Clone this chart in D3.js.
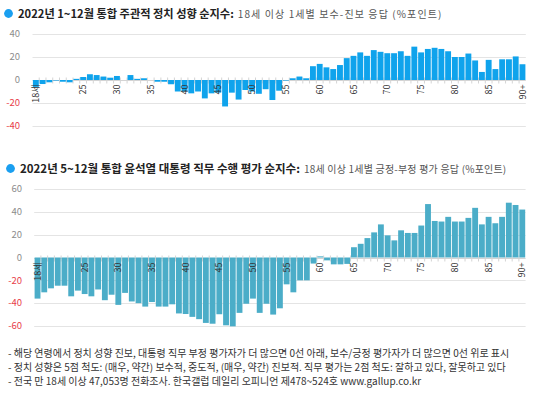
<!DOCTYPE html>
<html>
<head>
<meta charset="utf-8">
<script src="https://cdn.jsdelivr.net/npm/d3@7/dist/d3.min.js"></script>
<style>
body { margin: 0; background: #fff; }
svg { display: block; font-family: "Noto Sans CJK KR", "Noto Sans", sans-serif; }
</style>
</head>
<body>
<div id="chart"></div>
<script>
var ages = ["18","19","20","21","22","23","24","25","26","27","28","29","30","31","32","33","34","35","36","37",
    "38","39","40","41","42","43","44","45","46","47","48","49","50","51","52","53","54","55","56","57",
    "58","59","60","61","62","63","64","65","66","67","68","69","70","71","72","73","74","75","76","77",
    "78","79","80","81","82","83","84","85","86","87","88","89","90+"];

// 주관적 정치 성향 순지수 (보수-진보)
var ideology = [-6, -3.5, -2, -0.5, -1.5, -2, 1, 2.6, 5, 4.3, 3, 2, 3.5, 0, 4.3, 1, 1.5, 0, -1.5, -1.5,
    -3.7, -10, -10, -11.6, -10, -16, -11.6, -11, -23, -11, -17, -8.7, -10, -12, -8, -17.4, -9.3, -0.5, 1.5, 3,
    1.5, 12, 14, 11, 9.5, 13, 19, 21, 24, 21, 26, 24.5, 23.3, 23.3, 25, 21, 29, 24, 27, 28,
    27, 25, 20, 20, 23, 17, 7, 17.5, 9.5, 18, 18, 20.5, 13.7];

// 직무 수행 평가 순지수 (긍정-부정)
var approval = [-36, -30.5, -27, -24.7, -24.7, -34, -29, -32, -34, -28, -37.4, -32.6, -41.5, -31, -38.5, -40, -43, -39, -43, -43,
    -41, -49, -49.5, -52, -54, -57.3, -58, -49.7, -59.4, -60.3, -48.5, -40.5, -36, -48.5, -40.5, -50, -44.5, -23.5, -30.5, -20,
    -20, -5.3, 1, -2.5, -6, -6, -5.6, 9, 12, 17, 22, 29, 19.4, 15, 23.8, 21.5, 21.5, 28, 46.8, 32,
    31.5, 35.6, 31.5, 31.5, 34.7, 43.5, 29, 35.6, 30, 35.6, 48, 46, 42];

var xTickLabels = {"18": "18세", "25": "25", "30": "30", "35": "35", "40": "40", "45": "45", "50": "50",
    "55": "55", "60": "60", "65": "65", "70": "70", "75": "75", "80": "80", "85": "85", "90+": "90+"};

var ticksTop = [-40, -20, 0, 20, 40];
var ticksBottom = [-60, -40, -20, 0, 20, 40, 60];

var notes = [
    "- 해당 연령에서 정치 성향 진보, 대통령 직무 부정 평가자가 더 많으면 0선 아래, 보수/긍정 평가자가 더 많으면 0선 위로 표시",
    "- 정치 성향은 5점 척도: (매우, 약간) 보수적, 중도적, (매우, 약간) 진보적. 직무 평가는 2점 척도: 잘하고 있다, 잘못하고 있다",
    "- 전국 만 18세 이상 47,053명 전화조사. 한국갤럽 데일리 오피니언 제478~524호 www.gallup.co.kr"
];

var width = 540,
    height = 399;

var svg = d3.select("#chart")
    .append("svg")
    .attr("width", width)
    .attr("height", height);

function drawPanel(cfg) {
    var g = svg.append("g");

    var x = d3.scaleBand()
        .domain(ages)
        .range(cfg.xRange)
        .paddingInner(0.13)
        .paddingOuter(0.06);

    var y = d3.scaleLinear()
        .domain([cfg.ticks[0], cfg.ticks[cfg.ticks.length - 1]])
        .range(cfg.yRange);

    // title
    g.append("circle")
        .attr("cx", cfg.titleX - 9.5)
        .attr("cy", cfg.titleY - 4)
        .attr("r", 4.4)
        .attr("fill", "#1a9ff0");

    var title = g.append("text")
        .attr("x", cfg.titleX)
        .attr("y", cfg.titleY);
    title.append("tspan")
        .attr("font-size", cfg.titleSize + "px")
        .attr("font-weight", "bold")
        .attr("fill", "#222")
        .text(cfg.title);
    title.append("tspan")
        .attr("font-size", "10px")
        .attr("letter-spacing", cfg.subSpacing + "px")
        .attr("fill", "#555")
        .attr("dx", 4)
        .text(cfg.subtitle);

    // grid
    g.selectAll(".grid")
        .data(cfg.ticks)
        .enter().append("line")
        .attr("x1", cfg.xRange[0])
        .attr("x2", cfg.xRange[1])
        .attr("y1", function (d) { return Math.round(y(d)) + 0.5; })
        .attr("y2", function (d) { return Math.round(y(d)) + 0.5; })
        .attr("stroke", function (d) { return d === 0 ? "#d4d4d4" : "#e4e4e4"; })
        .attr("stroke-width", 1);

    g.selectAll(".ytick")
        .data(cfg.ticks)
        .enter().append("text")
        .attr("x", cfg.yLabelX)
        .attr("y", function (d) { return y(d); })
        .attr("dy", "0.35em")
        .attr("text-anchor", "end")
        .attr("font-size", "9.5px")
        .attr("fill", function (d) { return d < 0 ? "#e8404a" : "#8c8c8c"; })
        .text(function (d) { return d; });

    // category ticks at band boundaries
    var zeroY = Math.round(y(0)) + 0.5;
    g.selectAll(".xtick")
        .data(ages.slice(1))
        .enter().append("line")
        .attr("x1", function (d) { return x(d) - x.step() * x.paddingInner() / 2; })
        .attr("x2", function (d) { return x(d) - x.step() * x.paddingInner() / 2; })
        .attr("y1", zeroY - 3)
        .attr("y2", zeroY + 3)
        .attr("stroke", "#d4d4d4");

    g.selectAll(".bar")
        .data(cfg.values)
        .enter().append("rect")
        .attr("x", function (d, i) { return x(ages[i]); })
        .attr("width", x.bandwidth())
        .attr("y", function (d) { return y(Math.max(0, d)); })
        .attr("height", function (d) { return Math.abs(y(d) - y(0)); })
        .attr("fill", cfg.color);

    g.selectAll(".xlabel")
        .data(ages.filter(function (a) { return xTickLabels[a]; }))
        .enter().append("text")
        .attr("transform", function (d) {
            return "translate(" + (x(d) + x.bandwidth() / 2) + "," + (zeroY + 4) + ") rotate(-90)";
        })
        .attr("dy", "0.35em")
        .attr("text-anchor", "end")
        .attr("font-size", "9px")
        .attr("fill", "#333")
        .text(function (d) { return xTickLabels[d]; });
}

drawPanel({
    title: "2022년 1~12월 통합 주관적 정치 성향 순지수:",
    subtitle: "18세 이상 1세별 보수-진보 응답 (%포인트)",
    titleX: 18,
    titleY: 17.5,
    titleSize: 11.2,
    subSpacing: 1.1,
    values: ideology,
    color: "#0fa3ec",
    ticks: ticksTop,
    xRange: [32.5, 525.8],
    yRange: [126, 34],
    yLabelX: 20
});

drawPanel({
    title: "2022년 5~12월 통합 윤석열 대통령 직무 수행 평가 순지수:",
    subtitle: "18세 이상 1세별 긍정-부정 평가 응답 (%포인트)",
    titleX: 20,
    titleY: 172.5,
    titleSize: 11.5,
    subSpacing: 0.2,
    values: approval,
    color: "#4badc8",
    ticks: ticksBottom,
    xRange: [34.2, 525.6],
    yRange: [326, 189],
    yLabelX: 22
});

svg.selectAll(".note")
    .data(notes)
    .enter().append("text")
    .attr("x", 8)
    .attr("y", function (d, i) { return 357 + i * 13.8; })
    .attr("font-size", "10px")
    .attr("fill", "#333")
    .text(function (d) { return d; });
</script>
</body>
</html>
